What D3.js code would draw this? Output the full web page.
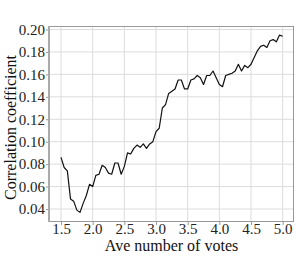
<!DOCTYPE html>
<html><head><meta charset="utf-8">
<script src="https://cdn.jsdelivr.net/npm/d3@7"></script>
<style>body{margin:0;background:#fff}svg{display:block}
svg text{font-family:"Liberation Serif","Times New Roman",Times,"DejaVu Serif",serif !important}</style>
</head><body><svg id="c" width="296" height="262"></svg>
<script>
const votes = [1.50,1.55,1.60,1.65,1.70,1.75,1.80,1.85,1.90,1.95,2.00,2.05,2.10,2.15,2.20,2.25,2.30,2.35,2.40,2.45,2.50,2.55,2.60,2.65,2.70,2.75,2.80,2.85,2.90,2.95,3.00,3.05,3.10,3.15,3.20,3.25,3.30,3.35,3.40,3.45,3.50,3.55,3.60,3.65,3.70,3.75,3.80,3.85,3.90,3.95,4.00,4.05,4.10,4.15,4.20,4.25,4.30,4.35,4.40,4.45,4.50,4.55,4.60,4.65,4.70,4.75,4.80,4.85,4.90,4.95,5.00];
const corr = [0.086,0.077,0.074,0.049,0.047,0.039,0.037,0.045,0.052,0.062,0.060,0.070,0.071,0.079,0.077,0.072,0.071,0.081,0.081,0.071,0.078,0.090,0.089,0.094,0.097,0.095,0.098,0.094,0.098,0.100,0.109,0.112,0.130,0.133,0.143,0.145,0.147,0.155,0.155,0.147,0.147,0.155,0.156,0.159,0.157,0.151,0.159,0.159,0.163,0.157,0.151,0.149,0.159,0.160,0.161,0.163,0.169,0.163,0.168,0.166,0.169,0.175,0.181,0.185,0.186,0.184,0.190,0.191,0.189,0.195,0.194];
const xTicks = [1.5,2.0,2.5,3.0,3.5,4.0,4.5,5.0];
const yTicks = [0.04,0.06,0.08,0.10,0.12,0.14,0.16,0.18,0.20];

const FONT = '"Liberation Serif","Times New Roman",Times,"DejaVu Serif",serif';
const svg = d3.select("#c");
const L=49, R=294, T=26, B=222;
const x = d3.scaleLinear().domain([1.5,5.0]).range([61,282.7]);
const y = d3.scaleLinear().domain([0.04,0.20]).range([209,29.5]);

const g = svg.append("g");
g.selectAll(".gx").data(xTicks).join("line")
  .attr("x1",d=>x(d)).attr("x2",d=>x(d)).attr("y1",T).attr("y2",B)
  .attr("stroke","#dcdcdc").attr("stroke-width",1);
g.selectAll(".gy").data(yTicks).join("line")
  .attr("y1",d=>y(d)).attr("y2",d=>y(d)).attr("x1",L).attr("x2",R)
  .attr("stroke","#dcdcdc").attr("stroke-width",1);
g.append("rect").attr("x",L+0.5).attr("y",T+0.5).attr("width",R-L-1).attr("height",B-T-1)
  .attr("fill","none").attr("stroke","#999").attr("stroke-width",1);
g.append("line").attr("x1",L).attr("x2",L).attr("y1",T).attr("y2",B).attr("stroke","#aaa").attr("stroke-width",2);

const xa = svg.append("g").attr("transform",`translate(0,${B})`)
  .call(d3.axisBottom(x).tickValues(xTicks).tickFormat(d3.format(".1f")).tickSize(3).tickPadding(-2));
const ya = svg.append("g").attr("transform",`translate(${L-1},0)`)
  .call(d3.axisLeft(y).tickValues(yTicks).tickFormat(d3.format(".2f")).tickSize(2).tickPadding(1));
[xa,ya].forEach(a=>{a.attr("font-family",FONT);a.select(".domain").remove();a.selectAll("line").attr("stroke","#999");
  a.selectAll("text").attr("font-size",15).attr("fill","#222").style("font-family",FONT);});

svg.append("path").datum(votes.map((v,i)=>[v,corr[i]]))
  .attr("d",d3.line().x(d=>x(d[0])).y(d=>y(d[1])))
  .attr("fill","none").attr("stroke","#111").attr("stroke-width",1.2).attr("stroke-linejoin","round");

svg.append("text").attr("x",(L+R)/2).attr("y",251).attr("text-anchor","middle").style("font-family",FONT)
  .attr("font-size",16).attr("fill","#111").text("Ave number of votes");
svg.append("text").attr("transform","translate(16,127.5) rotate(-90)").attr("text-anchor","middle").style("font-family",FONT)
  .attr("font-size",16).attr("fill","#111").text("Correlation coefficient");
</script></body></html>
